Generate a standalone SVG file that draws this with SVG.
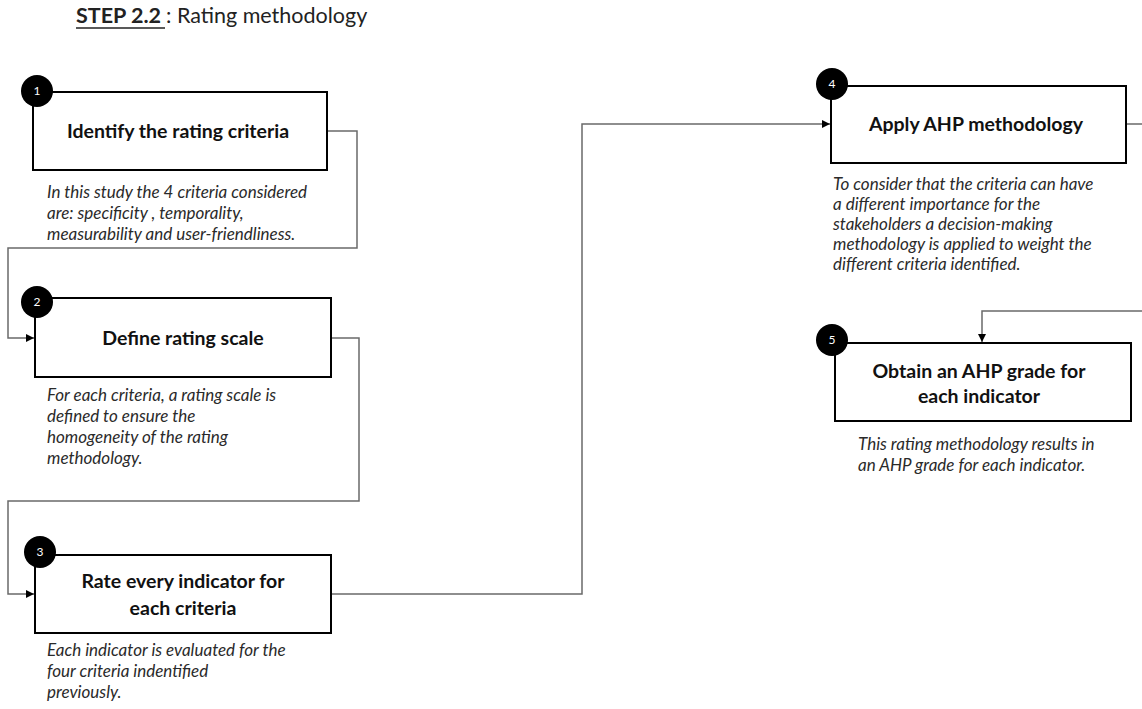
<svg xmlns="http://www.w3.org/2000/svg" width="1142" height="709" viewBox="0 0 1142 709">
  <style>
    .heading { font-family: Lato, "Liberation Sans", sans-serif; font-size: 21.5px; fill: #222; }
    .box { fill: #fff; stroke: #000; stroke-width: 2; }
    .badge { fill: #000; }
    .badge-num { font-family: Lato, "Liberation Sans", sans-serif; font-size: 12px; fill: #fff; text-anchor: middle; }
    .title { font-family: Lato, "Liberation Sans", sans-serif; font-weight: bold; font-size: 19.5px; fill: #111; text-anchor: middle; }
    .desc { font-family: Lato, "Liberation Sans", sans-serif; font-style: italic; font-size: 17px; fill: #2a2a2a; }
    .link { fill: none; stroke: #6a6a6a; stroke-width: 1.5; }
  </style>
  <defs>
    <marker id="arrow" viewBox="0 0 10 10" refX="10" refY="5" markerWidth="8" markerHeight="8" markerUnits="userSpaceOnUse" orient="auto">
      <path d="M0,0 L10,5 L0,10 Z" fill="#000"/>
    </marker>
  </defs>

  <rect width="1142" height="709" fill="#fff"/>

  <!-- heading -->
  <g id="heading">
    <text class="heading" x="76" y="23" font-weight="bold">STEP 2.2</text>
    <line x1="76" y1="28" x2="165" y2="28" stroke="#222" stroke-width="1.6"/>
    <text class="heading" x="166" y="23">: Rating methodology</text>
  </g>

  <!-- connectors -->
  <g id="connectors">
    <path class="link" d="M327,131 H357 V248 H8 V338 H34" marker-end="url(#arrow)"/>
    <path class="link" d="M331,338 H359 V501 H8 V594 H34" marker-end="url(#arrow)"/>
    <path class="link" d="M331,594 H582 V124 H830" marker-end="url(#arrow)"/>
    <path class="link" d="M1126,124 H1150 V311 H982 V342" marker-end="url(#arrow)"/>
  </g>

  <!-- step 1 -->
  <g id="step1">
    <rect class="box" x="33" y="92" width="294" height="78"/>
    <circle class="badge" cx="37" cy="91" r="16"/>
    <text class="badge-num" x="37" y="95">1</text>
    <text class="title" x="178" y="138">Identify the rating criteria</text>
    <text class="desc" x="47" y="198">In this study the 4 criteria considered</text>
    <text class="desc" x="47" y="219">are: specificity , temporality,</text>
    <text class="desc" x="47" y="240">measurability and user-friendliness.</text>
  </g>

  <!-- step 2 -->
  <g id="step2">
    <rect class="box" x="35" y="298" width="296" height="79"/>
    <circle class="badge" cx="37" cy="302" r="16"/>
    <text class="badge-num" x="37" y="306">2</text>
    <text class="title" x="183" y="345">Define rating scale</text>
    <text class="desc" x="47" y="401">For each criteria, a rating scale is</text>
    <text class="desc" x="47" y="422">defined to ensure the</text>
    <text class="desc" x="47" y="443">homogeneity of the rating</text>
    <text class="desc" x="47" y="464">methodology.</text>
  </g>

  <!-- step 3 -->
  <g id="step3">
    <rect class="box" x="35" y="555" width="296" height="78"/>
    <circle class="badge" cx="40" cy="552" r="16"/>
    <text class="badge-num" x="40" y="556">3</text>
    <text class="title" x="183" y="588">Rate every indicator for</text>
    <text class="title" x="183" y="615">each criteria</text>
    <text class="desc" x="47" y="656">Each indicator is evaluated for the</text>
    <text class="desc" x="47" y="677">four criteria indentified</text>
    <text class="desc" x="47" y="698">previously.</text>
  </g>

  <!-- step 4 -->
  <g id="step4">
    <rect class="box" x="831" y="86" width="295" height="77"/>
    <circle class="badge" cx="832" cy="84" r="16"/>
    <text class="badge-num" x="832" y="88">4</text>
    <text class="title" x="976" y="131">Apply AHP methodology</text>
    <text class="desc" x="833" y="190">To consider that the criteria can have</text>
    <text class="desc" x="833" y="210">a different importance for the</text>
    <text class="desc" x="833" y="230">stakeholders a decision-making</text>
    <text class="desc" x="833" y="250">methodology is applied to weight the</text>
    <text class="desc" x="833" y="270">different criteria identified.</text>
  </g>

  <!-- step 5 -->
  <g id="step5">
    <rect class="box" x="835" y="343" width="296" height="78"/>
    <circle class="badge" cx="832" cy="340" r="16"/>
    <text class="badge-num" x="832" y="344">5</text>
    <text class="title" x="979" y="378">Obtain an AHP grade for</text>
    <text class="title" x="979" y="403">each indicator</text>
    <text class="desc" x="858" y="450">This rating methodology results in</text>
    <text class="desc" x="858" y="471">an AHP grade for each indicator.</text>
  </g>
</svg>
